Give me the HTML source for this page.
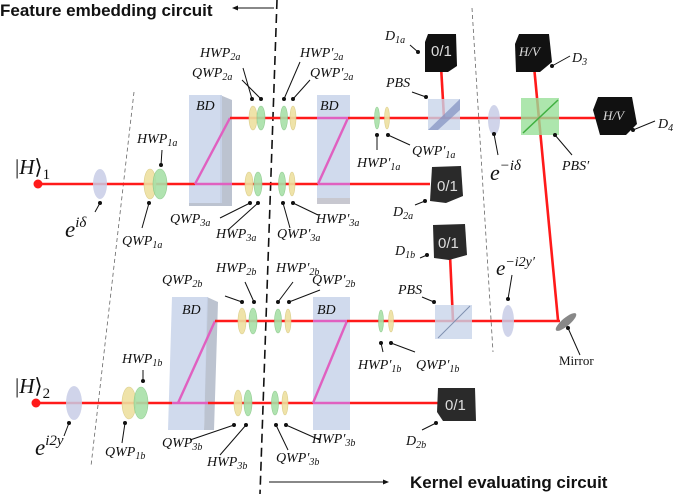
<!DOCTYPE html>
<html><head><meta charset="utf-8"><style>
html,body{margin:0;padding:0;background:#fff;}
svg{display:block;}
.l{font-family:"Liberation Serif",serif;font-style:italic;font-size:14px;fill:#111;}
.s{font-size:10px;}
.ld{stroke:#111;stroke-width:1;fill:none;}
.dt{fill:#111;}
.b{stroke:#ff1a1a;stroke-width:2.6;fill:none;}
.p{stroke:#e060c0;stroke-width:2.4;fill:none;}
.y{fill:#eee0a0;stroke:#d8c980;stroke-width:.6;opacity:.9}
.g{fill:#a8e0a8;stroke:#88c888;stroke-width:.6;opacity:.9}
.bd{fill:#c8d4ea;opacity:.85}
.bds{fill:#b0b8c8;opacity:.85}
.det{fill:#111}
.dt2{fill:#2a2a2a}
.dtx{font-family:"Liberation Sans",sans-serif;fill:#ddd;font-size:15px;}
</style></head><body>
<svg width="673" height="494" viewBox="0 0 673 494" xmlns="http://www.w3.org/2000/svg">
<!-- titles -->
<text x="0" y="16" font-family="Liberation Sans,sans-serif" font-weight="bold" font-size="17" fill="#111">Feature embedding circuit</text>
<line x1="236" y1="8" x2="274" y2="8" stroke="#111" stroke-width="1"/><path d="M232 8 l6 -2.5 v5z" fill="#111"/>
<text x="410" y="488" font-family="Liberation Sans,sans-serif" font-weight="bold" font-size="17" fill="#111">Kernel evaluating circuit</text>
<line x1="269" y1="482" x2="384" y2="482" stroke="#111" stroke-width="1"/><path d="M389 482 l-6 -2.5 v5z" fill="#111"/>
<!-- dashed lines -->
<line x1="277" y1="0" x2="260" y2="494" stroke="#111" stroke-width="1.6" stroke-dasharray="9,5"/>
<line x1="134" y1="92" x2="91" y2="466" stroke="#666" stroke-width=".8" stroke-dasharray="4,3"/>
<line x1="472" y1="8" x2="493" y2="352" stroke="#666" stroke-width=".8" stroke-dasharray="4,3"/>

<!-- BDs top -->
<polygon class="bds" points="220,95 232,100 232,203 220,203"/>
<rect class="bd" x="189" y="95" width="33" height="108"/>
<polygon class="bds" points="189,203 220,203 232,203 232,206 189,206"/>
<rect class="bd" x="317" y="95" width="33" height="108"/>
<rect x="317" y="198" width="33" height="6" fill="#c8c8d0"/>
<!-- BDs bottom -->
<polygon class="bds" points="207,297 218,302 214,430 204,430"/>
<polygon class="bd" points="172,297 208,297 204,430 168,430"/>
<rect class="bd" x="313" y="297" width="37" height="133"/>

<!-- beams a -->
<line class="b" x1="38" y1="184" x2="195" y2="184"/>
<line class="p" x1="195" y1="184" x2="230" y2="118"/>
<line class="p" x1="195" y1="184" x2="232" y2="184"/>
<line class="b" x1="232" y1="184" x2="318" y2="184"/>
<line class="p" x1="318" y1="184" x2="350" y2="184"/>
<line class="b" x1="350" y1="184" x2="430" y2="184"/>
<line class="b" x1="230" y1="118" x2="317" y2="118"/>
<line class="p" x1="317" y1="118" x2="348" y2="118"/>
<line class="p" x1="348" y1="118" x2="318" y2="184"/>
<line class="b" x1="348" y1="118" x2="600" y2="118"/>
<line class="b" x1="441" y1="66" x2="444" y2="118"/>
<line class="b" x1="534" y1="66" x2="558" y2="320"/>
<circle cx="38" cy="184" r="4.5" fill="#ff1a1a"/>
<!-- beams b -->
<line class="b" x1="36" y1="403" x2="172" y2="403"/>
<line class="p" x1="172" y1="403" x2="208" y2="403"/>
<line class="p" x1="178" y1="403" x2="215" y2="321"/>
<line class="b" x1="208" y1="403" x2="313" y2="403"/>
<line class="p" x1="313" y1="403" x2="350" y2="403"/>
<line class="p" x1="313" y1="403" x2="347" y2="321"/>
<line class="b" x1="350" y1="403" x2="440" y2="403"/>
<line class="b" x1="215" y1="321" x2="313" y2="321"/>
<line class="p" x1="313" y1="321" x2="347" y2="321"/>
<line class="b" x1="347" y1="321" x2="560" y2="321"/>
<line class="b" x1="450" y1="255" x2="453" y2="321"/>
<circle cx="36" cy="403" r="4.5" fill="#ff1a1a"/>

<!-- lenses -->
<ellipse cx="100" cy="184" rx="7" ry="15" fill="#c8cde6" opacity=".85"/>
<ellipse cx="494" cy="120" rx="6" ry="15" fill="#c8cde6" opacity=".85"/>
<ellipse cx="74" cy="403" rx="8" ry="17" fill="#c8cde6" opacity=".85"/>
<ellipse cx="508" cy="321" rx="6" ry="16" fill="#c8cde6" opacity=".85"/>
<!-- waveplates a -->
<ellipse class="y" cx="150" cy="184" rx="6" ry="15"/><ellipse class="g" cx="160" cy="184" rx="7" ry="15"/>
<ellipse class="y" cx="253" cy="118" rx="4" ry="12"/><ellipse class="g" cx="261" cy="118" rx="4" ry="12"/>
<ellipse class="g" cx="284" cy="118" rx="3.5" ry="12"/><ellipse class="y" cx="293" cy="118" rx="3" ry="12"/>
<ellipse class="y" cx="249" cy="184" rx="4" ry="12"/><ellipse class="g" cx="258" cy="184" rx="4" ry="12"/>
<ellipse class="g" cx="282" cy="184" rx="3.5" ry="12"/><ellipse class="y" cx="292" cy="184" rx="3" ry="12"/>
<ellipse class="g" cx="377" cy="118" rx="2.5" ry="11"/><ellipse class="y" cx="387" cy="118" rx="2.5" ry="11"/>
<!-- waveplates b -->
<ellipse class="y" cx="129" cy="403" rx="7" ry="16"/><ellipse class="g" cx="141" cy="403" rx="7" ry="16"/>
<ellipse class="y" cx="242" cy="321" rx="4" ry="13"/><ellipse class="g" cx="253" cy="321" rx="4" ry="13"/>
<ellipse class="g" cx="278" cy="321" rx="3.5" ry="12"/><ellipse class="y" cx="288" cy="321" rx="3" ry="12"/>
<ellipse class="y" cx="238" cy="403" rx="4" ry="13"/><ellipse class="g" cx="248" cy="403" rx="4" ry="13"/>
<ellipse class="g" cx="275" cy="403" rx="3.5" ry="12"/><ellipse class="y" cx="285" cy="403" rx="3" ry="12"/>
<ellipse class="g" cx="381" cy="321" rx="2.5" ry="11"/><ellipse class="y" cx="391" cy="321" rx="2.5" ry="11"/>

<!-- PBS -->
<rect x="428" y="99" width="32" height="31" fill="#c8d4ea" opacity=".8"/>
<polygon points="428,130 460,99 460,110 438,130" fill="#8090c0" opacity=".7"/>
<rect x="435" y="305" width="37" height="34" fill="#c8d4ea" opacity=".8"/>
<line x1="438" y1="338" x2="470" y2="306" stroke="#8090b0" stroke-width="1"/>
<rect x="521" y="98" width="38" height="37" fill="#98e098" opacity=".8"/>
<line x1="523" y1="133" x2="558" y2="100" stroke="#40b040" stroke-width="1.5"/>
<!-- mirror -->
<ellipse cx="566" cy="322" rx="13" ry="4" transform="rotate(-40 566 322)" fill="#888"/>

<!-- detectors -->
<polygon class="det" points="428,34 456,34 457,66 448,72 425,72 425,42"/>
<text class="dtx" x="431" y="56">0/1</text>
<polygon class="det" points="519,34 549,34 552,62 540,72 516,72 515,44"/>
<text class="dtx" x="519" y="56" style="font-style:italic;font-size:13px;font-family:'Liberation Serif',serif">H/V</text>
<polygon class="det" points="598,97 632,97 637,124 626,135 600,135 593,110"/>
<text class="dtx" x="603" y="120" style="font-style:italic;font-size:13px;font-family:'Liberation Serif',serif">H/V</text>
<polygon class="dt2" points="432,167 461,166 463,196 446,203 430,201"/>
<text class="dtx" x="437" y="191">0/1</text>
<polygon class="dt2" points="433,225 465,224 467,255 449,260 434,258"/>
<text class="dtx" x="438" y="248">0/1</text>
<polygon class="dt2" points="438,388 475,388 476,421 443,421 437,412"/>
<text class="dtx" x="445" y="410">0/1</text>

<!-- leaders -->
<g class="ld">
<path d="M243 68 L252 99"/><path d="M242 80 L261 99"/>
<path d="M300 62 L284 99"/><path d="M310 80 L293 99"/>
<path d="M162 150 L161 165"/><path d="M142 228 L149 203"/>
<path d="M95 212 L100 203"/>
<path d="M220 218 L250 203"/><path d="M228 230 L258 203"/><path d="M290 228 L283 203"/><path d="M318 215 L293 203"/>
<path d="M410 45 L418 52"/><path d="M412 92 L426 97"/><path d="M377 150 L377 135"/><path d="M410 145 L388 135"/>
<path d="M415 205 L425 201"/>
<path d="M498 155 L494 134"/><path d="M572 155 L555 135"/><path d="M570 56 L552 66"/><path d="M655 121 L633 130"/>
<path d="M225 296 L242 302"/><path d="M245 282 L254 302"/><path d="M293 282 L278 302"/><path d="M320 290 L289 302"/>
<path d="M143 370 L143 381"/><path d="M122 443 L125 423"/><path d="M64 436 L69 423"/>
<path d="M190 440 L234 425"/><path d="M220 455 L246 425"/><path d="M288 450 L276 425"/><path d="M320 440 L286 425"/>
<path d="M420 258 L427 255"/><path d="M422 297 L434 302"/><path d="M383 352 L381 343"/><path d="M415 352 L391 343"/>
<path d="M422 430 L436 423"/><path d="M512 275 L508 299"/><path d="M580 355 L568 328"/>
</g>
<g class="dt">
<circle cx="252" cy="99" r="2"/><circle cx="261" cy="99" r="2"/><circle cx="284" cy="99" r="2"/><circle cx="293" cy="99" r="2"/>
<circle cx="161" cy="165" r="2"/><circle cx="149" cy="203" r="2"/><circle cx="100" cy="203" r="2"/>
<circle cx="250" cy="203" r="2"/><circle cx="258" cy="203" r="2"/><circle cx="283" cy="203" r="2"/><circle cx="293" cy="203" r="2"/>
<circle cx="418" cy="52" r="2"/><circle cx="426" cy="97" r="2"/><circle cx="377" cy="135" r="2"/><circle cx="388" cy="135" r="2"/>
<circle cx="425" cy="201" r="2"/><circle cx="494" cy="134" r="2"/><circle cx="555" cy="135" r="2"/><circle cx="552" cy="66" r="2"/><circle cx="633" cy="130" r="2"/>
<circle cx="242" cy="302" r="2"/><circle cx="254" cy="302" r="2"/><circle cx="278" cy="302" r="2"/><circle cx="289" cy="302" r="2"/>
<circle cx="143" cy="381" r="2"/><circle cx="125" cy="423" r="2"/><circle cx="69" cy="423" r="2"/>
<circle cx="234" cy="425" r="2"/><circle cx="246" cy="425" r="2"/><circle cx="276" cy="425" r="2"/><circle cx="286" cy="425" r="2"/>
<circle cx="427" cy="255" r="2"/><circle cx="434" cy="302" r="2"/><circle cx="381" cy="343" r="2"/><circle cx="391" cy="343" r="2"/>
<circle cx="436" cy="423" r="2"/><circle cx="508" cy="299" r="2"/><circle cx="568" cy="328" r="2"/>
</g>

<!-- labels -->
<text class="l" x="200" y="57">HWP<tspan class="s" dy="3">2a</tspan></text>
<text class="l" x="192" y="77">QWP<tspan class="s" dy="3">2a</tspan></text>
<text class="l" x="300" y="57">HWP′<tspan class="s" dy="3">2a</tspan></text>
<text class="l" x="310" y="77">QWP′<tspan class="s" dy="3">2a</tspan></text>
<text class="l" x="196" y="110">BD</text><text class="l" x="320" y="110">BD</text>
<text class="l" x="137" y="143">HWP<tspan class="s" dy="3">1a</tspan></text>
<text class="l" x="122" y="245">QWP<tspan class="s" dy="3">1a</tspan></text>
<text x="15" y="174" font-family="Liberation Serif,serif" font-size="21" fill="#111">|<tspan font-style="italic">H</tspan>⟩<tspan font-size="15" dy="5">1</tspan></text>
<text class="l" x="65" y="237" style="font-size:23px">e<tspan style="font-size:15px" dy="-10">iδ</tspan></text>
<text class="l" x="170" y="223">QWP<tspan class="s" dy="3">3a</tspan></text>
<text class="l" x="216" y="238">HWP<tspan class="s" dy="3">3a</tspan></text>
<text class="l" x="277" y="238">QWP′<tspan class="s" dy="3">3a</tspan></text>
<text class="l" x="316" y="223">HWP′<tspan class="s" dy="3">3a</tspan></text>
<text class="l" x="385" y="40">D<tspan class="s" dy="3">1a</tspan></text>
<text class="l" x="386" y="87">PBS</text>
<text class="l" x="357" y="167">HWP′<tspan class="s" dy="3">1a</tspan></text>
<text class="l" x="412" y="155">QWP′<tspan class="s" dy="3">1a</tspan></text>
<text class="l" x="393" y="216">D<tspan class="s" dy="3">2a</tspan></text>
<text class="l" x="490" y="180" style="font-size:22px">e<tspan style="font-size:15px" dy="-10">−iδ</tspan></text>
<text class="l" x="562" y="170">PBS′</text>
<text class="l" x="572" y="62">D<tspan class="s" dy="3">3</tspan></text>
<text class="l" x="658" y="128">D<tspan class="s" dy="3">4</tspan></text>
<text class="l" x="162" y="284">QWP<tspan class="s" dy="3">2b</tspan></text>
<text class="l" x="216" y="272">HWP<tspan class="s" dy="3">2b</tspan></text>
<text class="l" x="276" y="272">HWP′<tspan class="s" dy="3">2b</tspan></text>
<text class="l" x="312" y="284">QWP′<tspan class="s" dy="3">2b</tspan></text>
<text class="l" x="182" y="314">BD</text><text class="l" x="317" y="314">BD</text>
<text class="l" x="122" y="363">HWP<tspan class="s" dy="3">1b</tspan></text>
<text class="l" x="105" y="456">QWP<tspan class="s" dy="3">1b</tspan></text>
<text x="15" y="393" font-family="Liberation Serif,serif" font-size="21" fill="#111">|<tspan font-style="italic">H</tspan>⟩<tspan font-size="15" dy="5">2</tspan></text>
<text class="l" x="35" y="455" style="font-size:23px">e<tspan style="font-size:15px" dy="-10">i2y</tspan></text>
<text class="l" x="162" y="447">QWP<tspan class="s" dy="3">3b</tspan></text>
<text class="l" x="207" y="466">HWP<tspan class="s" dy="3">3b</tspan></text>
<text class="l" x="276" y="462">QWP′<tspan class="s" dy="3">3b</tspan></text>
<text class="l" x="312" y="443">HWP′<tspan class="s" dy="3">3b</tspan></text>
<text class="l" x="395" y="255">D<tspan class="s" dy="3">1b</tspan></text>
<text class="l" x="398" y="294">PBS</text>
<text class="l" x="358" y="369">HWP′<tspan class="s" dy="3">1b</tspan></text>
<text class="l" x="416" y="369">QWP′<tspan class="s" dy="3">1b</tspan></text>
<text class="l" x="406" y="445">D<tspan class="s" dy="3">2b</tspan></text>
<text class="l" x="496" y="275" style="font-size:21px">e<tspan style="font-size:14px" dy="-9">−i2y′</tspan></text>
<text x="559" y="365" font-family="Liberation Serif,serif" font-size="13" fill="#111">Mirror</text>
</svg>
</body></html>
